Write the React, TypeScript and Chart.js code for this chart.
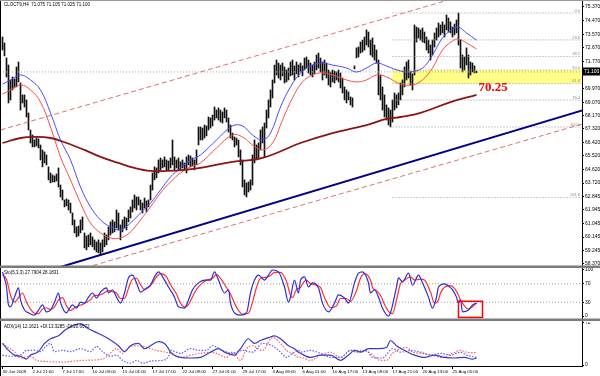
import React, { useEffect, useRef } from 'react';
import { Chart, registerables } from 'chart.js';

Chart.register(...registerables);

const SANS = '"Liberation Sans", Arial, sans-serif';
const SERIF = '"Liberation Serif", "Times New Roman", serif';

// ---------------- data ----------------
const symbolTitle = 'CLOCT9,H4  71.075 71.105 71.025 71.100';
const stochTitle = 'Sto(5,3,3) 27.7904 28.1831';
const adxTitle = 'ADX(14) 12.1621 +DI:13.3285 -DI:20.6672';

// H4 bar highs / lows (bar index 0..237)
const highs = [
  73.38, 72.99, 72.0, 71.53, 70.54, 70.74, 70.61, 71.4, 71.73, 70.34,
  69.55, 69.55, 69.22, 68.36, 67.23, 66.9, 66.57, 66.7, 66.64, 66.24,
  65.91, 65.78, 65.58, 64.79, 64.39, 64.26, 64.19, 64.32, 64.72, 63.59,
  63.26, 62.6, 62.67, 62.6, 62.4, 61.74, 61.28, 60.82, 60.88, 61.28,
  61.48, 60.42, 60.22, 60.29, 60.42, 60.16, 59.96, 59.82, 59.96, 59.76,
  59.96, 60.42, 60.29, 60.82, 61.15, 61.28, 61.15, 61.94, 61.74, 60.95,
  61.28, 61.48, 61.41, 61.94, 62.14, 62.6, 62.93, 62.8, 62.8, 62.6,
  62.4, 62.73, 62.54, 62.6, 63.59, 64.39, 64.79, 64.72, 65.25, 65.38,
  65.25, 65.45, 65.25, 65.18, 65.38, 66.57, 65.45, 65.25, 65.38, 65.12,
  65.25, 65.05, 65.45, 65.58, 65.51, 65.38, 65.25, 65.91, 67.43, 67.43,
  67.36, 67.56, 67.5, 68.09, 68.03, 68.22, 68.75, 68.55, 68.69, 68.55,
  68.42, 68.69, 68.55, 68.03, 67.56, 67.03, 66.77, 66.7, 66.57, 65.91,
  65.25, 63.93, 63.73, 63.79, 63.93, 65.58, 66.57, 66.24, 66.37, 67.23,
  67.43, 67.69, 68.55, 69.22, 69.88, 70.54, 71.53, 71.86, 71.66, 71.53,
  71.66, 71.4, 71.2, 71.33, 71.73, 71.86, 71.47, 71.73, 71.53, 71.66,
  71.47, 71.99, 72.06, 71.86, 71.66, 71.53, 71.73, 72.19, 72.32, 71.99,
  71.73, 71.86, 71.66, 71.2, 71.07, 71.2, 71.13, 71.07, 71.2, 71.0,
  70.67, 70.08, 69.88, 69.75, 69.42, 69.35, 71.47, 72.66, 72.72, 73.05,
  73.18, 73.38, 73.85, 73.71, 73.18, 73.32, 72.85, 72.52, 71.86, 70.87,
  70.08, 69.55, 68.89, 68.69, 68.55, 69.22, 69.68, 69.55, 69.68, 70.34,
  70.54, 71.4, 71.73, 71.86, 71.07, 70.94, 74.18, 74.04, 73.98, 73.85,
  73.98, 73.71, 73.38, 73.18, 72.85, 73.18, 73.65, 73.98, 74.31, 74.18,
  74.38, 74.18, 74.84, 74.64, 74.38, 74.04, 74.24, 74.51, 74.97, 73.18,
  72.19, 72.06, 72.66, 72.19, 71.73, 71.66, 71.47, 71.11,
];
const lows = [
  72.52, 72.13, 70.74, 69.02, 69.22, 69.88, 70.01, 70.08, 70.41, 68.55,
  69.02, 68.75, 68.09, 67.23, 66.37, 66.11, 66.11, 66.17, 66.04, 65.25,
  64.79, 65.05, 64.92, 63.93, 63.73, 63.79, 63.79, 63.86, 63.46, 62.8,
  62.6, 62.14, 62.21, 61.94, 61.74, 60.95, 60.42, 60.16, 60.22, 60.42,
  60.62, 59.43, 59.3, 59.5, 59.63, 59.5, 59.3, 59.16, 59.1, 58.96,
  59.16, 59.5, 59.63, 59.96, 60.29, 60.42, 60.49, 60.75, 60.62, 59.96,
  60.49, 60.75, 60.62, 61.15, 61.41, 61.81, 62.07, 61.94, 62.27, 61.94,
  61.74, 62.07, 61.81, 62.14, 62.6, 63.26, 63.93, 64.06, 64.39, 64.59,
  64.72, 64.79, 64.59, 64.59, 64.72, 64.92, 64.59, 64.72, 64.59, 64.59,
  64.72, 64.59, 64.39, 64.92, 64.79, 64.85, 64.59, 64.92, 66.24, 66.57,
  66.57, 66.7, 66.84, 67.23, 67.36, 67.5, 67.89, 68.03, 67.89, 67.76,
  67.69, 68.03, 67.76, 67.1, 66.7, 66.57, 66.11, 66.24, 65.45, 64.92,
  63.46, 62.93, 62.8, 63.13, 63.26, 63.59, 65.05, 65.25, 65.38, 65.91,
  66.37, 65.45, 67.36, 68.03, 68.75, 69.35, 70.34, 70.87, 70.67, 70.54,
  70.81, 70.34, 70.41, 70.54, 70.81, 70.87, 70.54, 70.94, 70.74, 71.07,
  70.81, 71.2, 71.33, 71.0, 70.87, 70.74, 70.94, 71.2, 71.33, 71.07,
  70.54, 70.87, 70.67, 70.21, 70.08, 70.41, 70.34, 70.54, 70.41, 70.01,
  69.68, 69.22, 69.02, 69.22, 68.89, 68.75, 71.27, 72.0, 72.06, 72.32,
  72.39, 72.52, 72.85, 72.72, 72.19, 72.06, 71.86, 71.66, 69.55, 69.22,
  68.55, 68.09, 67.89, 67.56, 67.43, 67.76, 68.55, 68.69, 68.89, 69.22,
  69.55, 70.08, 70.54, 70.67, 70.21, 69.88, 70.87, 73.05, 73.32, 73.18,
  73.05, 72.99, 72.52, 72.32, 71.86, 72.19, 72.72, 73.18, 73.38, 73.52,
  73.65, 73.38, 73.85, 73.71, 73.65, 73.38, 73.52, 73.65, 72.85, 71.33,
  71.07, 71.2, 71.53, 70.67, 70.87, 71.07, 71.0, 71.02,
];

// moving averages [barIndex, price]
const maBlue: [number, number][] = [
  [0, 70.27], [4, 70.54], [9, 70.87], [14, 70.54], [19, 69.88], [24, 68.36], [29, 66.57], [34, 65.25],
  [39, 63.46], [44, 62.14], [49, 61.28], [54, 60.82], [59, 60.62], [64, 61.08], [69, 61.74], [74, 62.4],
  [79, 63.26], [84, 64.12], [89, 64.72], [94, 65.25], [99, 65.58], [107, 66.57], [115, 67.5], [120, 67.5],
  [125, 66.9], [130, 66.57], [134, 67.03], [139, 68.75], [144, 70.08], [149, 71.0], [154, 71.46], [159, 71.66],
  [165, 71.53], [172, 71.33], [177, 71.07], [182, 71.33], [187, 71.66], [192, 71.46], [199, 71.13], [204, 71.07],
  [210, 71.33], [215, 72.19], [220, 73.32], [225, 73.91], [228, 74.04], [232, 73.65], [237, 73.18],
];
const maRed: [number, number][] = [
  [0, 69.61], [4, 69.88], [9, 70.21], [14, 69.88], [19, 69.08], [24, 67.43], [29, 65.45], [34, 63.93],
  [39, 62.4], [44, 61.08], [49, 60.42], [54, 60.09], [59, 60.09], [64, 60.49], [69, 61.28], [74, 62.14],
  [79, 63.06], [84, 63.79], [89, 64.39], [94, 64.79], [99, 65.05], [107, 66.04], [115, 66.9], [120, 66.77],
  [125, 66.24], [130, 65.91], [135, 66.37], [140, 67.89], [145, 69.35], [150, 70.41], [155, 70.87], [159, 71.0],
  [165, 70.87], [172, 70.54], [177, 70.41], [182, 70.54], [187, 70.87], [192, 70.74], [199, 70.27], [205, 70.21],
  [210, 70.54], [215, 71.33], [220, 72.52], [225, 73.12], [228, 73.25], [232, 72.99], [237, 72.59],
];
const maSlow: [number, number][] = [
  [0, 66.37], [9, 66.7], [16, 66.77], [24, 66.7], [32, 66.37], [41, 65.91], [49, 65.45], [58, 65.05],
  [66, 64.72], [74, 64.52], [82, 64.52], [91, 64.59], [99, 64.72], [115, 65.12], [130, 65.38], [149, 66.37],
  [165, 67.03], [182, 67.56], [192, 67.96], [199, 68.09], [209, 68.36], [224, 69.08], [237, 69.55],
];

// trend / channel lines [barIndex, price]
const channelMain: [number, number][] = [[24, 57.97], [290, 68.53]];
const channelLower: [number, number][] = [[37.5, 57.97], [290, 67.63]];
const channelUpper: [number, number][] = [[-1, 67.23], [290, 78.4]];

// fibonacci
const fibLevels = [74.97, 73.19, 72.09, 71.2, 70.31, 69.21, 67.43, 62.77];
const fibLabels = ['0.0', '23.6', '38.2', '50.0', '61.8', '76.4', '100.0', '161.8'];
const fibStart = 195;
const fibEnd = 290;
const zoneHigh = 71.2;
const zoneLow = 70.31;
const markerText = '70.25';
const markerAt: [number, number] = [238, 70.0];
const hLinePrice = 71.07;
const lastPrice = 71.1;
const lastPriceLabel = '71.100';

const priceTicks = [
  75.37, 74.47, 73.57, 72.67, 71.77, 69.97, 69.07, 68.17, 67.32, 66.42,
  65.52, 64.62, 63.72, 62.845, 61.945, 61.045, 60.145, 59.245, 58.37,
];

// stochastic [barIndex, value]
const stochK: [number, number][] = [
  [0, 96], [2, 63], [3, 24], [4, 20], [6, 41], [8, 61], [9, 35], [11, 13], [13, 7], [16, 2], [18, 13], [20, 24],
  [22, 9], [24, 13], [26, 30], [28, 50], [29, 30], [32, 7], [33, 13], [35, 24], [37, 17], [39, 30], [41, 28],
  [43, 41], [45, 50], [47, 39], [49, 52], [52, 61], [53, 50], [55, 57], [57, 41], [59, 28], [61, 50], [63, 83],
  [65, 89], [67, 72], [69, 52], [72, 61], [74, 67], [76, 85], [78, 96], [81, 78], [83, 63], [86, 41], [88, 20],
  [91, 17], [93, 35], [95, 57], [98, 72], [101, 78], [104, 78], [106, 96], [108, 78], [111, 50], [113, 57],
  [114, 28], [116, 7], [119, 2], [122, 7], [124, 50], [126, 78], [128, 89], [131, 78], [133, 89], [135, 100],
  [138, 96], [141, 63], [143, 30], [144, 41], [146, 78], [148, 50], [149, 78], [151, 85], [153, 63], [155, 72],
  [158, 61], [160, 28], [163, 9], [166, 28], [168, 46], [171, 39], [173, 28], [176, 72], [178, 93], [180, 96],
  [183, 72], [184, 50], [186, 57], [188, 41], [190, 17], [193, 0], [194, 7], [197, 63], [198, 83], [200, 74],
  [203, 93], [205, 67], [208, 89], [210, 72], [213, 41], [215, 17], [217, 41], [218, 63], [221, 70], [223, 65],
  [225, 57], [227, 41], [228, 28], [229, 35], [230, 9], [233, 13], [235, 24], [237, 28],
];
const stochD: [number, number][] = [
  [0, 90], [2, 80], [4, 45], [6, 30], [8, 40], [10, 50], [12, 30], [14, 15], [16, 6], [18, 5], [20, 15], [22, 18],
  [24, 14], [26, 20], [28, 35], [30, 40], [32, 22], [34, 12], [36, 18], [38, 22], [40, 25], [42, 30], [44, 35],
  [46, 45], [48, 45], [50, 48], [53, 55], [55, 53], [57, 50], [59, 38], [61, 38], [63, 60], [65, 80], [67, 82],
  [69, 68], [71, 58], [73, 62], [75, 72], [77, 85], [79, 92], [82, 85], [84, 68], [87, 48], [89, 28], [91, 20],
  [93, 25], [95, 42], [97, 58], [100, 72], [102, 78], [105, 82], [107, 90], [109, 82], [112, 62], [114, 48],
  [116, 28], [118, 12], [120, 4], [123, 6], [125, 30], [127, 62], [129, 82], [132, 84], [134, 88], [136, 95],
  [139, 95], [142, 75], [144, 45], [145, 40], [147, 58], [149, 62], [150, 70], [152, 78], [154, 70], [156, 68],
  [159, 62], [161, 40], [164, 18], [167, 22], [169, 38], [172, 38], [174, 32], [177, 55], [179, 82], [181, 92],
  [184, 78], [185, 62], [187, 55], [189, 45], [191, 25], [193, 10], [195, 5], [197, 35], [199, 70], [201, 78],
  [204, 85], [206, 78], [209, 80], [211, 78], [214, 52], [216, 28], [218, 35], [219, 50], [222, 65], [224, 66],
  [226, 60], [228, 45], [229, 35], [231, 22], [233, 15], [235, 20], [237, 28],
];
const stochLevels = [70, 30];
const stochTicks = [100, 70, 30, 0];
const stochBox: [number, number, number, number] = [228, 240, -3, 32];

// ADX [barIndex, value]
const adxLine: [number, number][] = [
  [0, 37], [3, 25], [6, 17], [9, 15], [12, 10], [14, 17], [18, 23], [21, 37], [24, 45], [28, 50], [31, 59],
  [35, 67], [39, 71], [43, 62], [48, 54], [53, 45], [58, 33], [61, 23], [64, 33], [68, 37], [71, 28], [74, 33],
  [78, 40], [81, 37], [83, 28], [84, 22], [89, 13], [94, 12], [99, 13], [104, 22], [108, 28], [111, 22],
  [116, 17], [119, 28], [123, 45], [126, 37], [129, 42], [133, 47], [136, 50], [139, 45], [143, 33], [146, 28],
  [148, 22], [149, 20], [154, 13], [159, 17], [164, 17], [169, 8], [173, 17], [176, 25], [179, 22], [183, 28],
  [188, 28], [192, 30], [194, 42], [197, 33], [201, 25], [206, 17], [211, 13], [216, 17], [221, 13], [226, 12],
  [231, 13], [235, 10], [237, 12],
];
const plusDI: [number, number][] = [
  [0, 17], [4, 15], [9, 17], [12, 25], [16, 25], [19, 23], [22, 33], [24, 37], [26, 23], [30, 25], [34, 23],
  [39, 28], [44, 23], [47, 32], [50, 23], [54, 15], [57, 17], [60, 8], [64, 3], [67, 8], [70, 3], [75, 7],
  [80, 8], [83, 15], [84, 25], [89, 20], [94, 28], [99, 25], [102, 25], [105, 33], [110, 25], [115, 20],
  [120, 25], [125, 22], [130, 37], [135, 33], [139, 22], [142, 13], [145, 20], [148, 25], [149, 22], [154, 25],
  [159, 20], [164, 13], [169, 13], [174, 25], [177, 22], [182, 25], [185, 13], [190, 12], [195, 28], [199, 22],
  [204, 25], [209, 22], [214, 17], [219, 20], [224, 17], [229, 22], [232, 17], [237, 13],
];
const minusDI: [number, number][] = [
  [0, 37], [2, 32], [6, 23], [9, 12], [14, 15], [17, 8], [22, 6], [30, 5], [40, 8], [50, 10], [53, 17],
  [57, 28], [60, 20], [64, 32], [69, 33], [74, 28], [77, 25], [80, 23], [84, 20], [89, 13], [94, 17], [99, 20],
  [104, 22], [107, 20], [112, 13], [115, 22], [119, 8], [122, 28], [125, 33], [130, 25], [135, 47], [139, 37],
  [142, 25], [145, 20], [148, 13], [149, 13], [154, 8], [159, 17], [164, 22], [169, 13], [174, 25], [179, 25],
  [184, 20], [189, 8], [192, 8], [195, 20], [199, 28], [202, 30], [205, 22], [210, 20], [215, 17], [220, 13],
  [225, 20], [229, 25], [232, 22], [237, 21],
];
const adxTicks = [72, 0];

// time axis
const timeTickIdx = [0, 15, 30, 45, 60, 75, 90, 105, 120, 135, 150, 165, 180, 195, 210, 225];
const timeLabels = [
  '30 Jun 2009', '2 Jul 21:00', '7 Jul 17:00', '10 Jul 09:00', '15 Jul 01:00', '17 Jul 17:00',
  '22 Jul 09:00', '27 Jul 01:00', '29 Jul 17:00', '3 Aug 09:00', '6 Aug 01:00', '10 Aug 17:00',
  '13 Aug 09:00', '17 Aug 21:00', '20 Aug 13:00', '25 Aug 05:00',
];

// ---------------- helpers ----------------
const X_MIN = -1.25;
const X_MAX = 289.75;
const AXIS_W = 18;

const pts = (arr: [number, number][]) => arr.map(([x, y]) => ({ x, y }));

function lineDs(data: [number, number][], color: string, width: number, extra: any = {}) {
  return {
    type: 'line',
    data: pts(data),
    borderColor: color,
    borderWidth: width,
    pointRadius: 0,
    fill: false,
    tension: 0,
    ...extra,
  };
}

function hLine(v: number, from: number, to: number, color: string, dash: number[]) {
  return lineDs([[from, v], [to, v]], color, 1, { borderDash: dash });
}

function xScale(display: boolean) {
  return {
    type: 'linear',
    min: X_MIN,
    max: X_MAX,
    offset: false,
    display,
    grid: { display: false },
  };
}

function yScale(min: number, max: number, ticks: number[], fmt: (v: number) => string) {
  return {
    type: 'linear',
    position: 'right',
    min,
    max,
    afterBuildTicks: (s: any) => {
      s.ticks = ticks.map((v) => ({ value: v }));
    },
    afterFit: (s: any) => {
      s.width = AXIS_W;
      s.paddingTop = 0;
      s.paddingBottom = 0;
    },
    ticks: {
      autoSkip: false,
      padding: 1,
      color: '#000',
      font: { size: 5, family: SANS },
      callback: (v: any) => fmt(Number(v)),
    },
    grid: { drawOnChartArea: false, tickLength: 2, color: '#000' },
    border: { display: true, color: '#000', width: 1 },
  };
}

const baseOptions = {
  animation: false,
  responsive: false,
  devicePixelRatio: 1,
  events: [],
  layout: { padding: 0 },
  plugins: { legend: { display: false }, tooltip: { enabled: false } },
};

function drawFrame(chart: any, sepY: number | null, topLine: boolean) {
  const { ctx } = chart;
  ctx.save();
  ctx.strokeStyle = '#000';
  ctx.lineWidth = 1;
  ctx.beginPath();
  ctx.moveTo(0.5, 0);
  ctx.lineTo(0.5, chart.height);
  ctx.stroke();
  if (topLine) {
    ctx.strokeStyle = '#9a9a9a';
    ctx.beginPath();
    ctx.moveTo(0, 0.5);
    ctx.lineTo(600, 0.5);
    ctx.stroke();
  }
  if (sepY !== null) {
    ctx.fillStyle = '#7c7c7c';
    ctx.fillRect(0, sepY, 600, 2.5);
  }
  ctx.restore();
}

function drawTitle(chart: any, text: string) {
  const { ctx } = chart;
  ctx.save();
  ctx.fillStyle = '#000';
  ctx.font = `4.5px ${SANS}`;
  ctx.textAlign = 'left';
  ctx.textBaseline = 'middle';
  ctx.fillText(text, 4, 5);
  ctx.restore();
}

// ---------------- configs ----------------
function mainConfig() {
  const datasets: any[] = [
    lineDs(channelMain, '#00008b', 2),
    lineDs(channelLower, '#e07070', 1, { borderDash: [5, 3] }),
    lineDs(channelUpper, '#e07070', 1, { borderDash: [5, 3] }),
    lineDs(maSlow, '#8b1414', 1.8, { tension: 0.4 }),
    lineDs(maBlue, '#4a4aff', 1, { tension: 0.4 }),
    lineDs(maRed, '#ff4a4a', 1, { tension: 0.4 }),
    ...fibLevels.map((v) => hLine(v, fibStart, fibEnd, '#9a9a9a', [1, 2])),
    hLine(hLinePrice, X_MIN, X_MAX, '#a8a8a8', [1, 2]),
    {
      type: 'bar',
      data: highs.map((h, i) => ({ x: i, y: [lows[i], h] })),
      backgroundColor: '#111',
      borderWidth: 0,
      barThickness: 1,
      grouped: false,
    },
  ];
  const overlay = {
    id: 'mainOverlay',
    beforeDatasetsDraw(chart: any) {
      const { ctx, chartArea, scales } = chart;
      const x0 = scales.x.getPixelForValue(fibStart);
      const yT = scales.y.getPixelForValue(zoneHigh);
      const yB = scales.y.getPixelForValue(zoneLow);
      ctx.save();
      ctx.fillStyle = '#ffff86';
      ctx.fillRect(x0, yT, chartArea.right - x0, yB - yT);
      ctx.restore();
    },
    afterDraw(chart: any) {
      const { ctx, chartArea, scales } = chart;
      ctx.save();
      ctx.fillStyle = '#8a8a8a';
      ctx.font = `4px ${SANS}`;
      ctx.textAlign = 'right';
      ctx.textBaseline = 'bottom';
      fibLevels.forEach((v, k) => {
        ctx.fillText(fibLabels[k], chartArea.right - 2, scales.y.getPixelForValue(v) - 0.5);
      });
      ctx.fillStyle = '#ff0000';
      ctx.font = `bold 13px ${SERIF}`;
      ctx.textAlign = 'left';
      ctx.textBaseline = 'middle';
      ctx.fillText(markerText, scales.x.getPixelForValue(markerAt[0]), scales.y.getPixelForValue(markerAt[1]));
      const py = scales.y.getPixelForValue(lastPrice);
      ctx.fillStyle = '#000';
      ctx.fillRect(chartArea.right + 1, py - 4, 17, 8);
      ctx.fillStyle = '#fff';
      ctx.font = `5px ${SANS}`;
      ctx.fillText(lastPriceLabel, chartArea.right + 2, py);
      ctx.restore();
      drawTitle(chart, symbolTitle);
      drawFrame(chart, 265.5, true);
    },
  };
  return {
    type: 'line',
    data: { datasets },
    options: {
      ...baseOptions,
      scales: {
        x: xScale(false),
        y: yScale(58.1, 75.83, priceTicks, (v) => v.toFixed(3)),
      },
    },
    plugins: [overlay],
  };
}

function stochConfig() {
  const datasets: any[] = [
    lineDs(stochK, '#2e2ed8', 1.2, { cubicInterpolationMode: 'monotone' }),
    lineDs(stochD, '#ff3030', 1.2, { cubicInterpolationMode: 'monotone' }),
    ...stochLevels.map((v) => hLine(v, X_MIN, X_MAX, '#a0a0a0', [1, 2])),
  ];
  const overlay = {
    id: 'stochOverlay',
    afterDraw(chart: any) {
      const { ctx, scales } = chart;
      const [x0, x1, y0, y1] = stochBox;
      const px0 = scales.x.getPixelForValue(x0);
      const px1 = scales.x.getPixelForValue(x1);
      const py0 = scales.y.getPixelForValue(y1);
      const py1 = scales.y.getPixelForValue(y0);
      ctx.save();
      ctx.strokeStyle = '#ff0000';
      ctx.lineWidth = 1.5;
      ctx.strokeRect(px0, py0, px1 - px0, py1 - py0);
      ctx.restore();
      drawTitle(chart, stochTitle);
      drawFrame(chart, 50.5, false);
    },
  };
  return {
    type: 'line',
    data: { datasets },
    options: {
      ...baseOptions,
      scales: {
        x: xScale(false),
        y: yScale(-13, 104.3, stochTicks, (v) => String(v)),
      },
    },
    plugins: [overlay],
  };
}

function adxConfig() {
  const datasets: any[] = [
    lineDs(adxLine, '#3a3ac4', 1.2, { cubicInterpolationMode: 'monotone' }),
    lineDs(plusDI, '#5d5dff', 1.2, { borderDash: [1.5, 1.5], cubicInterpolationMode: 'monotone' }),
    lineDs(minusDI, '#ff6060', 1.2, { borderDash: [1.5, 1.5], cubicInterpolationMode: 'monotone' }),
  ];
  const overlay = {
    id: 'adxOverlay',
    afterDraw(chart: any) {
      drawTitle(chart, adxTitle);
      drawFrame(chart, null, false);
    },
  };
  return {
    type: 'line',
    data: { datasets },
    options: {
      ...baseOptions,
      scales: {
        x: {
          type: 'linear',
          min: X_MIN,
          max: X_MAX,
          offset: false,
          position: 'bottom',
          afterBuildTicks: (s: any) => {
            s.ticks = timeTickIdx.map((v) => ({ value: v }));
          },
          afterFit: (s: any) => {
            s.height = 10;
            s.paddingLeft = 0;
            s.paddingRight = 0;
          },
          ticks: {
            autoSkip: false,
            maxRotation: 0,
            align: 'start',
            padding: 0,
            color: '#000',
            font: { size: 4.3, family: SANS },
            callback: (_v: any, idx: number) => timeLabels[idx],
          },
          grid: { drawOnChartArea: false, tickLength: 3, color: '#000' },
          border: { display: true, color: '#000', width: 1 },
        },
        y: yScale(-1.7, 73.7, adxTicks, (v) => String(v)),
      },
    },
    plugins: [overlay],
  };
}

function ChartCanvas({ height, build }: { height: number; build: () => any }) {
  const ref = useRef<HTMLCanvasElement>(null);
  useEffect(() => {
    const c = ref.current;
    if (!c) return;
    const chart = new Chart(c, build());
    return () => chart.destroy();
  }, []);
  return <canvas ref={ref} width={600} height={height} style={{ display: 'block', width: 600, height }} />;
}

export default function App() {
  return (
    <div style={{ position: 'absolute', left: 0, top: 0, width: 600, height: 376, background: '#fff' }}>
      <ChartCanvas height={268} build={mainConfig} />
      <ChartCanvas height={54} build={stochConfig} />
      <ChartCanvas height={54} build={adxConfig} />
    </div>
  );
}
